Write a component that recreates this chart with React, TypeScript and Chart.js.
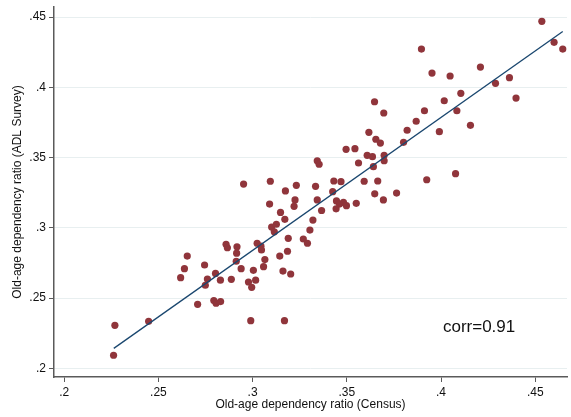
import React, { useEffect, useRef } from "react";
import { Chart, registerables } from "chart.js";

Chart.register(...registerables);

// Old-age dependency ratio (Census) -- x values
const censusRatio: number[] = [
  0.4535, 0.4600, 0.4646, 0.3896, 0.4209, 0.3952, 0.4048, 0.4363, 0.4289, 0.4105,
  0.4398, 0.3647, 0.4017, 0.3696, 0.3912, 0.4084, 0.3868, 0.3820, 0.3991, 0.4156,
  0.3617, 0.3654, 0.3678, 0.3801, 0.3496, 0.3543, 0.3608, 0.3636, 0.3698, 0.3698,
  0.3562, 0.3343, 0.3353, 0.3641, 0.3924, 0.4077, 0.3174, 0.3232, 0.3334, 0.3431,
  0.3469, 0.3592, 0.3664, 0.3425, 0.3648, 0.3764, 0.3225, 0.3343, 0.3445, 0.3482,
  0.3550, 0.3694, 0.3220, 0.3461, 0.3498, 0.3366, 0.3443, 0.2952, 0.3094, 0.3090,
  0.3148, 0.3171, 0.3320, 0.3304, 0.3189, 0.3269, 0.3291, 0.3185, 0.3144, 0.3161,
  0.3202, 0.3169, 0.2262, 0.2269, 0.2448, 0.2618, 0.2638, 0.2653, 0.2708, 0.2745,
  0.2749, 0.2760, 0.2794, 0.2806, 0.2830, 0.2803, 0.2829, 0.2859, 0.2866, 0.2887,
  0.2917, 0.2915, 0.2913, 0.2939, 0.2990, 0.2978, 0.2995, 0.3004, 0.3016, 0.3024,
  0.3044, 0.3047, 0.3065, 0.3058, 0.3101, 0.3115, 0.3126,
];

// Old-age dependency ratio (ADL Survey) -- y values
const surveyRatio: number[] = [
  0.4469, 0.4320, 0.4272, 0.4272, 0.4144, 0.4101, 0.4080, 0.4068, 0.4028, 0.3957,
  0.3923, 0.3897, 0.3904, 0.3817, 0.3833, 0.3833, 0.3758, 0.3694, 0.3684, 0.3729,
  0.3679, 0.3630, 0.3603, 0.3608, 0.3558, 0.3563, 0.3516, 0.3506, 0.3516, 0.3477,
  0.3461, 0.3477, 0.3452, 0.3435, 0.3342, 0.3385, 0.3262, 0.3302, 0.3295, 0.3333,
  0.3328, 0.3331, 0.3333, 0.3257, 0.3242, 0.3247, 0.3198, 0.3198, 0.3191, 0.3181,
  0.3174, 0.3198, 0.3153, 0.3169, 0.3157, 0.3123, 0.3135, 0.3311, 0.3331, 0.3169,
  0.3109, 0.3060, 0.3055, 0.2984, 0.2925, 0.2920, 0.2890, 0.2833, 0.2799, 0.2692,
  0.2671, 0.2339, 0.2093, 0.2306, 0.2334, 0.2645, 0.2709, 0.2799, 0.2455, 0.2735,
  0.2591, 0.2635, 0.2482, 0.2463, 0.2475, 0.2675, 0.2627, 0.2882, 0.2858, 0.2633,
  0.2865, 0.2819, 0.2762, 0.2709, 0.2339, 0.2614, 0.2576, 0.2697, 0.2627, 0.2890,
  0.2869, 0.2842, 0.2774, 0.2723, 0.3005, 0.2971, 0.3025,
];

// Fitted line endpoints
const fitX: number[] = [0.2263, 0.4646];
const fitY: number[] = [0.2142, 0.4397];

// Axis ticks
const xTickValues: number[] = [0.2, 0.25, 0.3, 0.35, 0.4, 0.45];
const xTickLabels: string[] = [".2", ".25", ".3", ".35", ".4", ".45"];
const yTickValues: number[] = [0.2, 0.25, 0.3, 0.35, 0.4, 0.45];
const yTickLabels: string[] = [".2", ".25", ".3", ".35", ".4", ".45"];

const xTitle = "Old-age dependency ratio (Census)";
const yTitle = "Old-age dependency ratio (ADL Survey)";

const corrLabel = "corr=0.91";
const corrX = 0.401;
const corrY = 0.229;

const FONT = "'Liberation Sans', Arial, Helvetica, sans-serif";
const POINT_COLOR = "#90353b";
const LINE_COLOR = "#1a476f";
const GRID_COLOR = "#e8eff0";
const AXIS_COLOR = "#5a5a5a";

export default function App() {
  const canvasRef = useRef<HTMLCanvasElement | null>(null);

  useEffect(() => {
    const canvas = canvasRef.current;
    if (!canvas) return;

    const annotationPlugin = {
      id: "corrAnnotation",
      afterDatasetsDraw(chart: any) {
        const { ctx, scales } = chart;
        const px = scales.x.getPixelForValue(corrX);
        const py = scales.y.getPixelForValue(corrY);
        ctx.save();
        ctx.font = `17px ${FONT}`;
        ctx.fillStyle = "#111";
        ctx.textAlign = "left";
        ctx.textBaseline = "middle";
        ctx.fillText(corrLabel, px, py);
        ctx.restore();
      },
    };

    const chart = new Chart(canvas, {
      type: "scatter",
      data: {
        datasets: [
          {
            type: "line",
            label: "fit",
            data: fitX.map((x, i) => ({ x, y: fitY[i] })),
            borderColor: LINE_COLOR,
            borderWidth: 1.3,
            pointRadius: 0,
            fill: false,
            order: 0,
          } as any,
          {
            type: "scatter",
            label: "obs",
            data: censusRatio.map((x, i) => ({ x, y: surveyRatio[i] })),
            backgroundColor: POINT_COLOR,
            borderColor: POINT_COLOR,
            borderWidth: 0,
            pointRadius: 3.6,
            order: 1,
          },
        ],
      },
      options: {
        responsive: false,
        animation: false,
        devicePixelRatio: 1,
        layout: { padding: { top: 7, right: 0, left: 0, bottom: 0 } },
        plugins: {
          legend: { display: false },
          tooltip: { enabled: false },
        },
        scales: {
          x: {
            type: "linear",
            min: 0.19458,
            max: 0.46685,
            afterBuildTicks: (scale: any) => {
              scale.ticks = xTickValues.map((v) => ({ value: v }));
            },
            afterFit: (scale: any) => {
              scale.height = 40;
              scale.paddingLeft = 0;
              scale.paddingRight = 0;
            },
            ticks: {
              font: { family: FONT, size: 12 },
              color: "#111",
              padding: 3,
              maxRotation: 0,
              autoSkip: false,
              callback: (value: any) => {
                const idx = xTickValues.findIndex((t) => Math.abs(t - Number(value)) < 1e-9);
                return idx >= 0 ? xTickLabels[idx] : "";
              },
            },
            grid: {
              drawOnChartArea: false,
              drawTicks: true,
              tickLength: 5,
              tickColor: AXIS_COLOR,
              tickWidth: 1,
            },
            border: { display: true, color: AXIS_COLOR, width: 1.5 },
            title: {
              display: true,
              text: xTitle,
              font: { family: FONT, size: 12 },
              color: "#111",
              padding: { top: 0, bottom: 5 },
            },
          },
          y: {
            type: "linear",
            min: 0.19381,
            max: 0.45712,
            afterBuildTicks: (scale: any) => {
              scale.ticks = yTickValues.map((v) => ({ value: v }));
            },
            afterFit: (scale: any) => {
              scale.width = 54;
              scale.paddingTop = 0;
              scale.paddingBottom = 0;
            },
            ticks: {
              font: { family: FONT, size: 12 },
              color: "#111",
              padding: 3,
              autoSkip: false,
              callback: (value: any) => {
                const idx = yTickValues.findIndex((t) => Math.abs(t - Number(value)) < 1e-9);
                return idx >= 0 ? yTickLabels[idx] : "";
              },
            },
            grid: {
              drawOnChartArea: true,
              color: GRID_COLOR,
              lineWidth: 1,
              drawTicks: true,
              tickLength: 5,
              tickColor: AXIS_COLOR,
              tickWidth: 1,
            },
            border: { display: true, color: AXIS_COLOR, width: 1.5 },
            title: {
              display: true,
              text: yTitle,
              font: { family: FONT, size: 12 },
              color: "#111",
              padding: { top: 10, bottom: 0 },
            },
          },
        },
      },
      plugins: [annotationPlugin],
    } as any);

    return () => {
      chart.destroy();
    };
  }, []);

  return (
    <div style={{ position: "absolute", left: 0, top: 0, width: 571, height: 417, background: "#fff" }}>
      <canvas ref={canvasRef} width={571} height={417} style={{ display: "block" }} />
    </div>
  );
}
